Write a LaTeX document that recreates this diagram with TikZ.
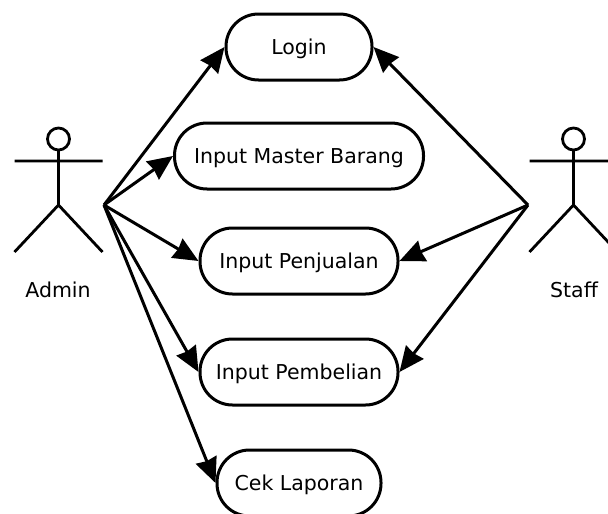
\documentclass[tikz,border=0pt]{standalone}
\usepackage{fontspec}
\setmainfont{DejaVu Sans}
\usetikzlibrary{arrows.meta}
\begin{document}
\begin{tikzpicture}[x=1pt,y=-1pt,
  usecase/.style={draw,line width=3pt,rounded corners=32.5pt,minimum height=66pt,inner sep=0pt,text depth=0pt,text height=15pt,font=\fontsize{20.5}{24}\selectfont},
  link/.style={line width=3pt,-{Stealth[length=25pt,width=22pt,inset=1.5pt]}},
  stick/.style={line width=2.8pt},
  lab/.style={font=\fontsize{20.5}{24}\selectfont,inner sep=0pt}]
\useasboundingbox (0,0) rectangle (608,514);
\node[usecase,minimum width=146pt] (login) at (299,47) {Login};
\node[usecase,minimum width=249pt] (master) at (299,156) {Input Master Barang};
\node[usecase,minimum width=198pt] (jual) at (299,261) {Input Penjualan};
\node[usecase,minimum width=198pt] (beli) at (299,372) {Input Pembelian};
\node[usecase,minimum width=164pt] (cek) at (299,483) {Cek Laporan};
\coordinate (admin) at (104,205);
\coordinate (staff) at (528,205);
\foreach \c/\x in {a/58.5,s/573.5}{
  \draw[stick] (\x,139) circle (11);
  \draw[stick] (\x,150) -- (\x,205) (\x-44,161) -- (\x+44,161) (\x-44,252) -- (\x,205) -- (\x+44,252);
}
\node[lab] (adminl) at (58,290) {Admin};
\node[lab] (staffl) at (574,290) {Staff};
\draw[link] (admin) -- (login.west);
\draw[link] (admin) -- (master.west);
\draw[link] (admin) -- (jual.west);
\draw[link] (admin) -- (beli.west);
\draw[link] (admin) -- (cek.west);
\draw[link] (staff) -- (login.east);
\draw[link] (staff) -- (jual.east);
\draw[link] (staff) -- (beli.east);
\end{tikzpicture}
\end{document}
